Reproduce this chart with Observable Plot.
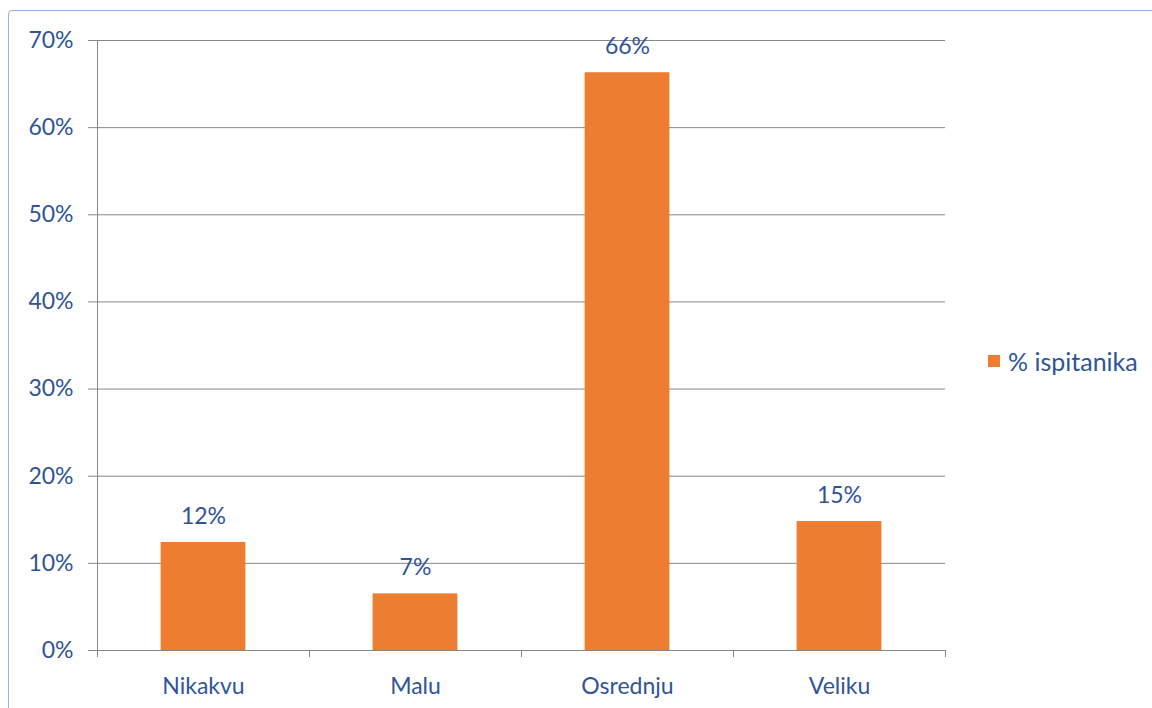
<!DOCTYPE html>
<html>
<head>
<meta charset="utf-8">
<script src="https://cdn.jsdelivr.net/npm/d3@7"></script>
<script src="https://cdn.jsdelivr.net/npm/@observablehq/plot@0.6"></script>
<style>
  html, body { margin: 0; padding: 0; background: #fff; }
  #wrap { position: relative; width: 1152px; height: 708px; overflow: hidden; font-family: Lato, "Open Sans", sans-serif; }
  #frame { position: absolute; left: 8px; top: 10px; width: 1200px; height: 760px; border: 1px solid #8db7e2; border-radius: 4px; box-sizing: border-box; }
  #legend { position: absolute; left: 988px; top: 346px; display: flex; align-items: center; color: #2f5597; font-size: 25px; }
  #legend .sw { width: 12px; height: 12px; background: #ed7d31; margin-right: 8px; }
  svg { position: absolute; left: 0; top: 0; }
</style>
</head>
<body>
<div id="wrap">
  <div id="frame"></div>
  <div id="legend"><span class="sw"></span><span>% ispitanika</span></div>
</div>
<script>
const categories = ["Nikakvu", "Malu", "Osrednju", "Veliku"];
const values = [0.124, 0.065, 0.663, 0.148];
const labels = ["12%", "7%", "66%", "15%"];
const yTicks = [0, 0.1, 0.2, 0.3, 0.4, 0.5, 0.6, 0.7];
const seriesName = "% ispitanika";

const data = categories.map((c, i) => ({cat: c, value: values[i], label: labels[i]}));

const W = 1152, H = 708, mL = 97, mR = 207, mT = 40, mB = 58;
const band = (W - mL - mR) / categories.length;
const inset = band * 0.3;
const blue = "#2f5597";
const grey = "#878787";
const fs = 23;

const chart = Plot.plot({
  width: W, height: H,
  marginLeft: mL, marginRight: mR, marginTop: mT, marginBottom: mB,
  style: {background: "transparent", fontFamily: "Lato, 'Open Sans', sans-serif", color: blue},
  x: {domain: categories, padding: 0, label: null},
  y: {domain: [0, 0.7], label: null},
  marks: [
    Plot.gridY(yTicks, {stroke: grey, strokeOpacity: 1, strokeWidth: 1}),
    Plot.axisY(yTicks, {tickFormat: d => Math.round(d * 100) + "%", tickSize: 9, tickPadding: 15, stroke: grey, fill: blue, fontSize: fs, label: null}),
    Plot.axisX({tickSize: 0, tickPadding: 27, fill: blue, fontSize: fs, label: null}),
    Plot.ruleX(categories, {x: d => d, dx: -band / 2, y1: 0.7, y2: -0.008, stroke: grey, filter: (d, i) => i === 0}),
    Plot.ruleX(categories, {x: d => d, dx: -band / 2, y1: 0, y2: -0.008, stroke: grey, filter: (d, i) => i > 0}),
    Plot.ruleX(categories.slice(-1), {x: d => d, dx: band / 2, y1: 0, y2: -0.008, stroke: grey}),
    Plot.barY(data, {x: "cat", y: "value", fill: "#ed7d31", insetLeft: inset, insetRight: inset}),
    Plot.ruleY([0], {stroke: grey}),
    Plot.text(data, {x: "cat", y: "value", text: "label", dy: -26, fill: blue, fontSize: fs})
  ]
});
document.getElementById("wrap").appendChild(chart);
</script>
</body>
</html>
